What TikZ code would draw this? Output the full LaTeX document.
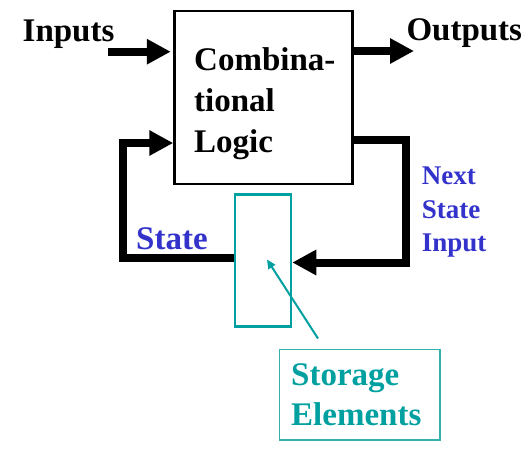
\documentclass[tikz,border=0pt]{standalone}
\usepackage{fontspec}
\setmainfont{Liberation Serif}
\usepackage{tikz}
\usetikzlibrary{arrows.meta,positioning}
\definecolor{storeteal}{HTML}{00A0A0}
\definecolor{labelteal}{HTML}{33B0B0}
\definecolor{stateblue}{HTML}{3333CC}

\begin{document}
\begin{tikzpicture}[x=1pt,y=-1pt,
  wire/.style={line width=8pt,line join=miter},
  fat/.style={-{Triangle[length=24pt,width=24pt]}},
  txt/.style={font=\fontsize{33}{41}\selectfont\bfseries,inner sep=0pt},
  small/.style={font=\fontsize{27}{33.7}\selectfont\bfseries,inner sep=0pt}]
\useasboundingbox (0,0) rectangle (529,451);
\node[draw,line width=2.5pt,minimum width=178pt,minimum height=173pt,inner sep=0pt] (logic) at (263.5,97.5) {};
\node[txt,align=left,anchor=north west] (logictext) at (194,47) {Combina-\\tional\\Logic};
\node[draw=storeteal,line width=2.5pt,minimum width=56pt,minimum height=132pt,inner sep=0pt] (store) at (263,260.5) {};
\node[draw=labelteal,line width=1.5pt,minimum width=160.5pt,minimum height=90.5pt,inner sep=0pt] (storelabel) at (359.75,394.75) {};
\node[txt,text=storeteal,align=left,anchor=north west,font=\fontsize{33}{40}\selectfont\bfseries] (storetext) at (291,363.5) {Storage\\Elements};
\node[txt,anchor=base west] (inputs) at (22.5,41.7) {Inputs};
\node[txt,anchor=base west] (outputs) at (406.3,40) {Outputs};
\node[txt,text=stateblue,anchor=base west] (state) at (136,249.5) {State};
\node[small,text=stateblue,align=left,anchor=north west] (nextstate) at (421.7,166.7) {Next\\State\\Input};
\coordinate (intail) at (108,51.7);
\coordinate (outtip) at (414,51);
\coordinate (nscorner) at (405.5,139.5);
\coordinate (stcorner) at (123.3,258.3);
\coordinate (ptrtail) at (318,338.5);
\draw[wire,fat] (intail) -- ([xshift=-2.5pt]logic.west |- intail);
\draw[wire,fat] (logic.east |- outtip) -- (outtip);
\draw[wire,fat] (logic.east |- nscorner) -- (nscorner) -- (nscorner |- 0,262.5) -- (store.east |- 0,262.5);
\draw[wire,fat] (store.west |- stcorner) -- (stcorner) -- (stcorner |- 0,143) -- (logic.west |- 0,143);
\draw[storeteal,line width=2pt,-{Triangle[length=9pt,width=8pt]}] (ptrtail) -- ([xshift=4pt,yshift=1pt]store.center);
\end{tikzpicture}
\end{document}
